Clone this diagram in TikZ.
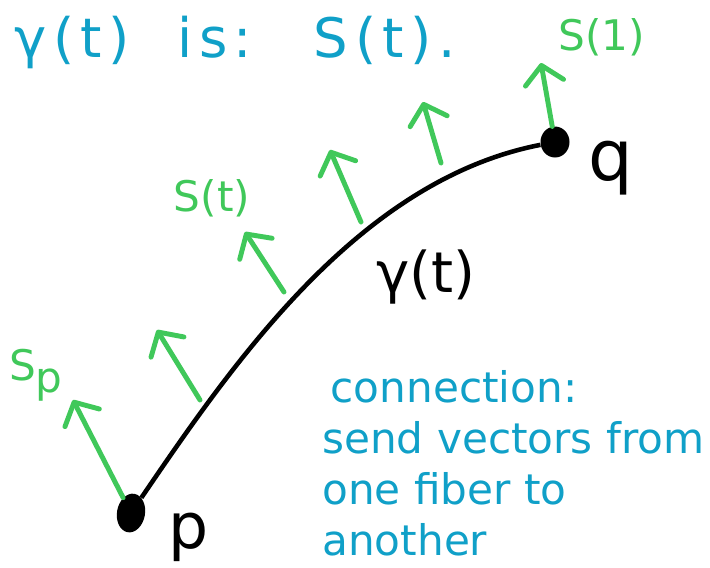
\documentclass[tikz,border=0pt]{standalone}
\usepackage{fontspec}
\setmainfont{DejaVu Sans}
\newfontfamily\handfont[LetterSpace=12]{DejaVu Sans}
\usetikzlibrary{arrows.meta,shapes.geometric}
\definecolor{handgreen}{RGB}{64,200,90}
\definecolor{handblue}{RGB}{16,160,200}
\tikzset{
  dot/.style={ellipse,fill=black,inner sep=0pt},
  vec/.style={handgreen,line width=2.8pt,line cap=round,
    -{Straight Barb[length=10pt,width=22pt,line cap=round,line join=round]}},
  veclabel/.style={text=handgreen,font=\fontsize{24}{24}\selectfont},
  note/.style={text=handblue,font=\handfont\fontsize{31}{31}\selectfont},
}
\begin{document}
\begin{tikzpicture}[x=0.02cm,y=-0.02cm]
\fill[white] (0,0) rectangle (710,564);

% Punten
\node[dot,minimum width=0.56cm,minimum height=0.78cm,rotate=-10] (p) at (131,513) {};
\node[dot,minimum width=0.58cm,minimum height=0.62cm] (q) at (555,142) {};
\node[font=\fontsize{36}{36}\selectfont] (plabel) at (189,537) {p};
\node[font=\fontsize{40}{40}\selectfont] (qlabel) at (611,168) {q};

% Kromme
\draw[line width=2.6pt] (p) .. controls (235,360) and (360,180) .. (q);
\node[font=\fontsize{32}{32}\selectfont] (gamma) at (426,277) {γ(t)};

% Vectoren
\coordinate (t1) at (73,400);
\coordinate (b2) at (200,400);
\coordinate (t2) at (157,330);
\coordinate (b3) at (284,292);
\coordinate (t3) at (245,232);
\coordinate (b4) at (361,222);
\coordinate (t4) at (330,150);
\coordinate (b5) at (441,163);
\coordinate (t5) at (423,102);
\coordinate (t6) at (541,63);
\draw[vec] (p) -- (t1);
\draw[vec] (b2) -- (t2);
\draw[vec] (b3) -- (t3);
\draw[vec] (b4) -- (t4);
\draw[vec] (b5) -- (t5);
\draw[vec] (q) -- (t6);

% Labels
\node[veclabel] (sp) at (36,375) {S\raisebox{-.5ex}{p}};
\node[veclabel] (st) at (212,198) {S(t)};
\node[veclabel] (s1) at (602,37) {S(1)};

% Tekst
\node[note,anchor=west,inner sep=0pt] (title) at (14,42) {γ(t)\hspace{0.87em}is:\hspace{1.13em}S(t).};
\node[note,font=\fontsize{24}{29}\selectfont,anchor=north west,align=left,inner sep=0pt] (conn) at (322,370)
  {\hspace{0.2em}connection:\\send vectors from\\one fiber to\\another};
\end{tikzpicture}
\end{document}
